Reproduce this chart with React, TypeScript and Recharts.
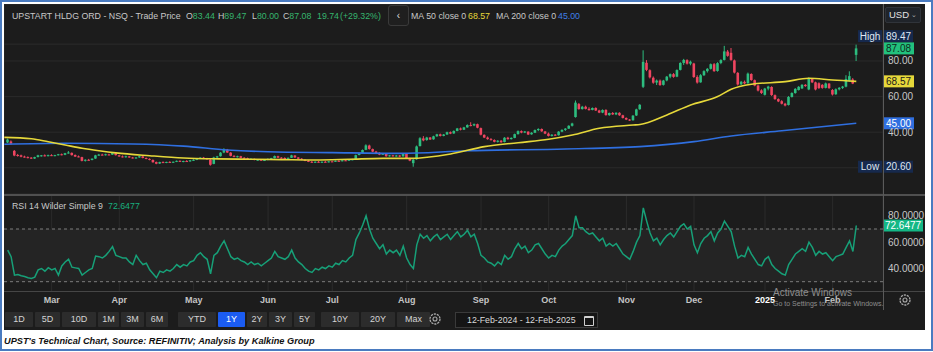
import React from "react";
import {
  ComposedChart, Bar, Line, XAxis, YAxis, CartesianGrid, ReferenceLine, ReferenceArea,
} from "recharts";

// trading-day index (12-Feb-2024 = 0) of the first session of each month
const monthTicks = [13, 33, 55, 77, 96, 118, 140, 160, 183, 203, 224, 244];
const monthLabels = ["Mar", "Apr", "May", "Jun", "Jul", "Aug", "Sep", "Oct", "Nov", "Dec", "2025", "Feb"];

// daily candles [open, high, low, close]
const candles = [
  // Feb
  [34.2, 36.4, 33.9, 35.9], [34.8, 35.4, 33.0, 33.6], [29.5, 30.0, 26.5, 26.9], [27.2, 27.8, 26.3, 27.0],
  [27.0, 27.4, 25.9, 26.2], [26.3, 26.8, 25.7, 26.0], [26.0, 26.4, 25.3, 25.6], [25.7, 26.0, 25.0, 25.3],
  [25.2, 26.2, 25.0, 26.0], [26.1, 27.3, 25.8, 27.0], [26.6, 27.2, 26.3, 27.0], [27.0, 27.5, 26.4, 26.7],
  [26.7, 27.4, 26.4, 27.1],
  // Mar
  [27.1, 27.6, 26.6, 26.9], [26.9, 27.3, 26.5, 27.1], [27.1, 27.8, 26.9, 27.6], [27.6, 28.0, 27.0, 27.3],
  [27.3, 28.4, 27.1, 28.2], [28.3, 29.4, 27.9, 28.6], [28.4, 28.6, 26.9, 27.1], [27.2, 27.5, 26.1, 26.3],
  [26.4, 26.9, 25.9, 26.1], [26.0, 26.2, 23.6, 23.9], [24.0, 24.8, 23.5, 24.5], [24.5, 25.0, 24.0, 24.3],
  [24.4, 25.3, 24.2, 25.1], [25.2, 27.3, 25.0, 27.0], [27.0, 27.8, 26.7, 27.4], [27.4, 27.9, 27.0, 27.2],
  [27.3, 27.9, 26.9, 27.6], [27.5, 27.9, 27.0, 27.3], [27.4, 28.6, 27.2, 28.3], [28.2, 28.5, 26.9, 27.1],
  // Apr
  [27.0, 27.3, 26.1, 26.4], [26.4, 26.9, 25.8, 26.0], [26.0, 26.8, 25.7, 26.5], [26.4, 26.7, 25.6, 25.8],
  [25.8, 26.1, 25.2, 25.5], [25.5, 26.0, 25.1, 25.8], [25.8, 26.8, 25.6, 26.5], [26.4, 26.6, 25.3, 25.5],
  [25.5, 25.8, 24.8, 25.1], [25.0, 25.3, 24.2, 24.5], [24.4, 24.7, 22.9, 23.1], [23.2, 23.5, 22.0, 22.3],
  [22.4, 23.4, 22.2, 23.2], [23.2, 23.6, 22.7, 23.0], [23.0, 23.4, 22.6, 23.3], [23.3, 23.7, 22.8, 23.0],
  [23.0, 23.5, 22.7, 23.4], [23.4, 24.1, 23.2, 23.9], [23.9, 24.2, 23.3, 23.5], [23.5, 24.0, 23.1, 23.8],
  [23.8, 24.3, 23.4, 23.6], [23.6, 24.4, 23.4, 24.2],
  // May
  [24.2, 24.8, 23.9, 24.5], [24.5, 25.4, 24.3, 25.2], [25.2, 25.9, 24.9, 25.7], [25.7, 26.1, 25.0, 25.3],
  [25.3, 25.6, 24.6, 24.9], [24.6, 25.0, 21.2, 21.7], [22.2, 26.2, 22.0, 25.8], [25.8, 26.7, 25.4, 26.4],
  [26.5, 28.8, 26.3, 28.5], [28.6, 31.0, 28.2, 30.3], [30.2, 30.6, 28.3, 28.6], [28.5, 28.8, 26.4, 26.7],
  [26.7, 27.1, 25.9, 26.2], [26.3, 26.8, 25.8, 26.5], [26.5, 26.7, 25.4, 25.6], [25.6, 26.0, 25.1, 25.4],
  [25.4, 25.7, 24.6, 24.8], [24.8, 25.3, 24.5, 25.1], [25.0, 25.2, 24.2, 24.4], [24.4, 24.8, 23.9, 24.6],
  [24.6, 24.9, 23.8, 24.0], [24.0, 24.6, 23.8, 24.4],
  // Jun
  [24.4, 25.3, 24.2, 25.0], [25.0, 25.6, 24.7, 25.4], [25.4, 26.9, 25.3, 26.6], [26.5, 26.8, 25.5, 25.7],
  [25.7, 26.0, 25.2, 25.5], [25.5, 25.9, 25.0, 25.2], [25.2, 25.8, 25.0, 25.6], [25.6, 27.3, 25.5, 27.0],
  [26.9, 27.1, 25.6, 25.8], [25.8, 26.0, 24.9, 25.1], [25.1, 25.4, 24.3, 24.5], [24.5, 24.8, 23.7, 23.9],
  [23.9, 24.3, 23.2, 23.4], [23.4, 23.8, 22.8, 23.0], [23.0, 23.6, 22.8, 23.4], [23.4, 23.8, 22.9, 23.1],
  [23.1, 23.6, 22.7, 23.4], [23.4, 23.9, 23.0, 23.2], [23.2, 23.8, 23.0, 23.6],
  // Jul
  [23.6, 24.0, 23.2, 23.5], [23.5, 24.1, 23.3, 23.9], [23.9, 24.3, 23.5, 23.7], [23.7, 24.4, 23.6, 24.2],
  [24.2, 24.6, 23.8, 24.0], [24.0, 24.7, 23.9, 24.5], [24.5, 25.0, 24.2, 24.8], [24.9, 27.4, 24.8, 27.1],
  [27.2, 28.4, 27.0, 28.1], [28.2, 30.3, 28.0, 30.0], [30.1, 33.2, 29.9, 32.6], [32.5, 33.0, 30.2, 30.6],
  [30.5, 30.8, 28.8, 29.1], [29.1, 29.5, 28.0, 28.3], [28.4, 28.7, 27.1, 27.4], [27.4, 28.2, 27.2, 27.9],
  [27.8, 28.0, 26.2, 26.5], [26.5, 27.2, 26.3, 27.0], [27.0, 27.3, 26.3, 26.6], [26.6, 27.2, 26.2, 26.9],
  [26.9, 27.2, 26.0, 26.3], [26.4, 28.3, 26.3, 28.0],
  // Aug
  [28.0, 28.3, 25.2, 25.5], [25.4, 25.6, 23.7, 24.0], [22.6, 24.9, 20.6, 24.5], [24.8, 32.5, 24.5, 32.0],
  [32.2, 37.2, 32.0, 36.6], [36.5, 37.8, 34.9, 35.4], [35.6, 37.4, 35.2, 37.0], [37.0, 37.3, 35.6, 35.9],
  [36.0, 38.0, 35.8, 37.7], [37.7, 39.1, 37.4, 38.8], [38.8, 39.2, 37.6, 37.9], [37.9, 39.0, 37.7, 38.7],
  [38.7, 40.3, 38.5, 40.0], [40.0, 40.4, 38.9, 39.2], [39.3, 41.0, 39.1, 40.7], [40.7, 42.4, 40.5, 42.1],
  [42.1, 42.6, 41.0, 41.4], [41.4, 43.0, 41.2, 42.7], [42.7, 44.4, 42.5, 44.0], [44.0, 45.6, 43.3, 43.7],
  [43.8, 44.9, 43.4, 44.5], [44.5, 44.8, 42.2, 42.5],
  // Sep
  [42.3, 42.6, 38.2, 38.6], [38.5, 38.8, 36.7, 37.0], [37.0, 37.6, 35.8, 36.1], [36.1, 36.7, 35.3, 35.6],
  [35.6, 36.0, 34.3, 34.6], [34.6, 35.5, 34.2, 35.2], [35.2, 35.6, 34.0, 34.4], [34.5, 37.2, 34.3, 36.9],
  [36.9, 37.4, 35.8, 36.1], [36.1, 37.1, 35.9, 36.8], [36.8, 39.2, 36.6, 38.9], [38.9, 41.0, 38.7, 40.6],
  [40.6, 41.0, 39.4, 39.8], [39.8, 40.7, 39.5, 40.4], [40.3, 40.5, 38.4, 38.7], [38.8, 40.0, 38.6, 39.7],
  [39.7, 41.5, 39.5, 41.2], [41.2, 42.2, 40.6, 41.8], [41.8, 42.1, 40.2, 40.5], [40.4, 40.7, 38.9, 39.2],
  // Oct
  [39.2, 39.8, 37.6, 37.9], [37.9, 38.9, 37.6, 38.6], [38.6, 39.0, 37.9, 38.2], [38.3, 40.6, 38.1, 40.3],
  [40.3, 41.6, 40.0, 41.3], [41.3, 42.3, 40.7, 42.0], [42.0, 43.9, 41.8, 43.6], [43.6, 45.3, 43.2, 44.9],
  [48.5, 57.8, 48.2, 56.6], [55.8, 56.4, 52.6, 53.0], [53.0, 54.8, 52.7, 54.3], [54.3, 54.9, 52.8, 53.1],
  [53.1, 54.0, 52.1, 52.4], [52.5, 53.9, 52.3, 53.6], [53.6, 54.0, 51.9, 52.2], [52.2, 52.6, 50.7, 51.0],
  [51.0, 52.8, 50.7, 52.5], [52.5, 52.9, 49.3, 49.6], [49.6, 51.0, 49.2, 50.8], [50.8, 51.3, 49.7, 50.0],
  [50.0, 51.2, 49.6, 50.9], [50.9, 51.2, 49.2, 49.5], [49.5, 49.8, 47.7, 48.0],
  // Nov
  [48.0, 48.3, 46.8, 47.1], [47.1, 47.4, 46.3, 46.6], [46.7, 49.6, 46.5, 49.3], [49.4, 53.2, 49.1, 52.8],
  [52.9, 55.8, 52.6, 55.4], [65.5, 86.0, 64.8, 79.5], [79.0, 80.5, 74.3, 75.0], [74.8, 75.3, 70.2, 70.8],
  [70.6, 71.3, 67.2, 67.8], [67.9, 69.6, 66.5, 69.0], [69.0, 69.6, 66.0, 66.5], [66.6, 69.4, 66.2, 69.0],
  [69.1, 71.6, 68.6, 71.2], [71.2, 73.0, 70.3, 72.6], [72.6, 73.2, 70.6, 71.1], [71.2, 75.3, 70.9, 74.9],
  [75.0, 79.3, 74.7, 78.9], [78.9, 81.2, 77.8, 80.6], [80.5, 81.0, 78.0, 78.5], [78.5, 80.2, 77.6, 79.6],
  // Dec
  [78.6, 79.0, 70.5, 71.0], [71.0, 72.0, 67.3, 67.9], [68.0, 72.6, 67.8, 72.0], [72.0, 74.8, 71.6, 74.3],
  [74.3, 76.0, 73.5, 75.6], [75.6, 78.6, 75.2, 78.2], [78.2, 78.9, 73.9, 74.3], [74.4, 79.3, 74.0, 78.8],
  [78.9, 81.0, 78.2, 80.5], [80.6, 88.5, 80.3, 85.4], [85.3, 86.2, 82.4, 82.9], [84.6, 87.3, 80.1, 80.6],
  [80.3, 80.8, 73.0, 73.5], [73.3, 73.8, 66.2, 66.8], [66.9, 68.8, 66.5, 68.3], [68.3, 69.0, 67.0, 67.4],
  [67.5, 73.5, 67.2, 72.9], [72.7, 73.1, 68.9, 69.3], [69.2, 69.6, 65.8, 66.2], [66.2, 66.7, 62.9, 63.4],
  [63.5, 64.1, 61.5, 62.0],
  // Jan
  [61.0, 64.9, 60.6, 64.5], [64.5, 66.1, 63.5, 65.6], [65.4, 65.8, 60.4, 60.9], [60.8, 61.2, 58.2, 58.6],
  [58.6, 59.0, 56.9, 57.3], [57.4, 58.0, 55.6, 56.0], [56.0, 56.5, 54.5, 55.0], [55.3, 60.3, 55.0, 59.8],
  [59.8, 62.4, 59.5, 62.0], [62.0, 64.8, 61.6, 64.3], [63.7, 65.9, 63.4, 65.5], [64.6, 67.0, 64.3, 66.6],
  [66.6, 67.0, 65.5, 65.9], [64.0, 70.8, 63.6, 70.2], [70.0, 70.4, 67.6, 68.0], [68.0, 68.4, 63.5, 64.0],
  [67.5, 68.0, 64.3, 64.8], [66.6, 67.0, 64.4, 64.9], [64.9, 67.9, 64.6, 67.4], [67.3, 67.6, 64.3, 64.8],
  // Feb
  [63.7, 64.2, 60.6, 61.2], [61.3, 64.6, 61.0, 64.1], [64.1, 65.4, 63.5, 64.9], [64.9, 66.0, 64.3, 65.6],
  [65.6, 72.0, 65.2, 69.9], [68.8, 74.2, 68.5, 71.5], [69.6, 70.4, 67.0, 67.34], [83.44, 89.47, 80.0, 87.08],
];

// moving averages at a handful of sessions
const ma50Days = [-1, 7, 12, 17, 22, 27, 32, 42, 52, 62, 72, 81, 91, 101, 111, 119, 131, 141, 151, 160, 167, 175, 185, 187, 195, 202, 210, 214, 220, 230, 237, 244, 251];
const ma50Values = [37.1, 36.3, 34.6, 32.8, 31.0, 29.6, 28.4, 26.8, 25.5, 25.0, 24.8, 24.6, 24.4, 24.8, 25.3, 25.3, 27.8, 31.9, 34.1, 36.0, 38.4, 42.2, 44.0, 44.3, 49.7, 55.3, 60.0, 64.1, 66.9, 68.4, 70.3, 69.3, 68.57];
const ma200Days = [-1, 17, 37, 52, 65, 77, 96, 116, 136, 165, 187, 203, 214, 229, 251];
const ma200Values = [33.2, 33.8, 33.4, 32.2, 30.0, 29.0, 28.5, 28.1, 29.6, 30.6, 31.9, 34.7, 37.9, 40.8, 45.0];

// RSI 14, one value per session
const rsiValues = [
  54, 49, 35, 35.5, 34.5, 34, 33, 32.5, 33.5, 39,
  40, 38, 40.6, 39, 40, 35, 42, 45, 47, 41,
  40.5, 40, 35, 37, 39, 40, 49.5, 49, 48, 50,
  53, 56.6, 50, 49, 48, 48, 45, 43, 50, 46,
  43, 44, 39, 36, 33, 38, 37, 39, 38, 40,
  43, 41, 43, 42, 45, 46, 50, 52, 49, 47,
  36, 50, 52, 57, 61, 55, 49, 47, 48, 46,
  45, 43, 45, 43, 44, 42, 44, 46, 48, 53,
  49, 48, 47, 49, 54, 48, 45, 43, 40, 38,
  37, 40, 39, 41, 40, 42, 41, 44, 43, 46,
  45, 48, 50, 62, 67, 73, 80, 70, 63, 59,
  55, 58, 51, 54, 52, 54, 50, 57, 48, 43,
  40, 58, 66, 63, 65, 61, 64, 66, 62, 64,
  66, 62, 65, 68, 64, 66, 69, 64, 66, 59,
  50, 48, 45, 44, 42, 45, 43, 50, 47, 49,
  55, 59, 55, 57, 52, 54, 58, 59, 55, 51,
  48, 50, 49, 54, 57, 59, 62, 65, 80, 71,
  71, 68, 66, 67, 64, 61, 63, 57, 59, 57,
  59, 55, 51, 49, 47, 53, 60, 65, 86, 76,
  67, 61, 63, 58, 62, 65, 67, 64, 68, 72,
  74, 70, 72, 58, 52, 59, 63, 65, 68, 61,
  67, 70, 76, 72, 68, 57, 48, 50, 49, 56,
  51, 47, 43, 42, 47, 49, 43, 40, 38, 36,
  35, 43, 47, 51, 53, 55, 53, 60, 56, 50,
  53, 51, 52, 49, 46, 49, 50, 51, 56, 61,
  53, 72.6477,
];

const priceTicks = [40, 60, 80];
const priceGridLevels = [20];
const rsiTicks = [40, 60, 80];
const periodHigh = 89.47;
const periodLow = 20.6;
const ma50Last = 68.57;
const ma200Last = 45.0;
const dayChange = 19.74;
const dayChangePct = 29.32;
const rangeButtons = ["1D", "5D", "10D", "1M", "3M", "6M", "YTD", "1Y", "2Y", "3Y", "5Y", "10Y", "20Y", "Max"];
const activeRange = "1Y";

// layout / style
const FONT = "'Liberation Sans', Arial, sans-serif";
const PANEL = "#1c1c1c";
const GRID = "#2b2b2b";
const TXT = "#c8c8c8";
const UP = "#2dbd7f";
const DOWN = "#ef4560";
const YELLOW = "#e6d83a";
const BLUE = "#2f6fe0";
const VAL_GREEN = "#36b56e";
const RSI_GREEN = "#17a078";
const HEAD_SIZE = 8.8;
const X_DOMAIN: [number, number] = [-1.1, 258.9];
const btnLeft = [5, 35, 62, 98, 121, 146, 178, 218, 247, 269, 294, 321, 361, 397];
const btnWidth = [28, 25, 34, 21, 23, 22, 38, 27, 20, 23, 21, 38, 34, 33];

const data = candles.map((c, i) => ({ i, o: c[0], h: c[1], l: c[2], c: c[3] }));
const ma50Data = ma50Days.map((d, k) => ({ i: d, v: ma50Values[k] }));
const ma200Data = ma200Days.map((d, k) => ({ i: d, v: ma200Values[k] }));
const rsiData = rsiValues.map((r, i) => ({ i, r }));
const last = candles[candles.length - 1];
const lastRsi = rsiValues[rsiValues.length - 1];

const Candle = (props: any) => {
  const { x, y, width, height, payload } = props;
  if (x == null || payload == null) return null;
  const { o, h, l, c } = payload;
  const color = c >= o ? UP : DOWN;
  const cx = x + width / 2;
  const k = h - l > 0 ? height / (h - l) : 0;
  const yo = y + (h - o) * k;
  const yc = y + (h - c) * k;
  const top = Math.min(yo, yc);
  const bh = Math.max(1, Math.abs(yo - yc));
  return (
    <g>
      <line x1={cx} x2={cx} y1={y} y2={y + height} stroke={color} strokeWidth={1} />
      <rect x={cx - 1.3} y={top} width={2.6} height={bh} fill={color} />
    </g>
  );
};

const ValueTag = (props: any) => {
  const { viewBox, text, bg, fg, w = 31, dy = 0, tag, dx = 1 } = props;
  if (!viewBox) return null;
  const x = viewBox.x + viewBox.width + dx;
  const y = viewBox.y + dy;
  return (
    <g fontFamily={FONT} fontSize={10}>
      {tag && (
        <>
          <rect x={x - 26} y={y - 6} width={24} height={12} fill={bg} />
          <text x={x - 14} y={y + 3.5} textAnchor="middle" fill={fg}>{tag}</text>
        </>
      )}
      <rect x={x} y={y - 6} width={w} height={12} fill={bg} />
      <text x={x + w / 2} y={y + 3.5} textAnchor="middle" fill={fg}>{text}</text>
    </g>
  );
};

const PriceTick = (props: any) => (
  <text x={props.x} y={props.y + 3.5} fill={TXT} fontSize={10} fontFamily={FONT}>
    {Number(props.payload.value).toFixed(2)}
  </text>
);

const RsiTick = (props: any) => (
  <text x={props.x} y={props.y + 3.5} fill={TXT} fontSize={10} fontFamily={FONT}>
    {Number(props.payload.value).toFixed(4)}
  </text>
);

const MonthTick = (props: any) => {
  const idx = monthTicks.indexOf(props.payload.value);
  const label = monthLabels[idx];
  const isYear = /^\d+$/.test(label || "");
  return (
    <text x={props.x} y={props.y + 12} textAnchor="middle" fontSize={9} fontWeight="bold"
      fill={isYear ? "#ffffff" : "#c4c4c4"} fontFamily={FONT}>
      {label}
    </text>
  );
};

const Gear = ({ x, y }: { x: number; y: number }) => (
  <svg style={{ position: "absolute", left: x - 7, top: y - 7 }} width={14} height={14}>
    <circle cx={7} cy={7} r={5} fill="none" stroke="#a8a8a8" strokeWidth={1.3} strokeDasharray="2.2 0.9" />
    <circle cx={7} cy={7} r={2} fill="none" stroke="#a8a8a8" strokeWidth={1.1} />
  </svg>
);

const abs = (left: number, top: number, extra: React.CSSProperties = {}): React.CSSProperties => ({
  position: "absolute", left, top, ...extra,
});

const head = (left: number, top: number, color: string = TXT): React.CSSProperties =>
  abs(left, top, { fontSize: HEAD_SIZE, color, whiteSpace: "nowrap", lineHeight: "12px" });

export default function App() {
  return (
    <div style={{ position: "fixed", left: 0, top: 0, width: 933, height: 352, background: "#fff", fontFamily: FONT, overflow: "hidden" }}>
      <div style={abs(0, 0, { width: 929, height: 347, border: "2px solid #4a7bc0" })} />
      <div style={abs(4, 4, { width: 921, height: 326, background: PANEL })} />

      {/* price panel */}
      <div style={abs(4, 4)}>
        <ComposedChart width={921} height={190} data={data} margin={{ top: 0, right: 0, bottom: 0, left: 0 }}>
          <CartesianGrid stroke={GRID} strokeWidth={1} />
          <XAxis type="number" dataKey="i" domain={X_DOMAIN} ticks={monthTicks} allowDataOverflow
            height={0} tick={false} axisLine={false} tickLine={false} />
          <YAxis orientation="right" width={42} domain={[5.28, 112.02]} ticks={priceTicks} allowDataOverflow
            axisLine={false} tickLine={false} tickSize={0} tickMargin={5} tick={PriceTick} />
          {priceGridLevels.map((g) => <ReferenceLine key={g} y={g} stroke={GRID} />)}
          <ReferenceLine y={periodHigh} stroke={GRID} />
          <Bar dataKey={(d: any) => [d.l, d.h]} shape={Candle} barSize={3} isAnimationActive={false} />
          <Line data={ma200Data} dataKey="v" type="monotone" stroke={BLUE} strokeWidth={1.6} dot={false}
            activeDot={false} isAnimationActive={false} />
          <Line data={ma50Data} dataKey="v" type="monotone" stroke={YELLOW} strokeWidth={1.6} dot={false}
            activeDot={false} isAnimationActive={false} />
          <ReferenceLine y={periodHigh} stroke="none"
            label={(p: any) => <ValueTag {...p} text={periodHigh.toFixed(2)} tag="High" bg="#16294d" fg="#dfe6f2" dy={-8} w={29} />} />
          <ReferenceLine y={periodLow} stroke="none"
            label={(p: any) => <ValueTag {...p} text={periodLow.toFixed(2)} tag="Low" bg="#16294d" fg="#dfe6f2" w={29} />} />
          <ReferenceLine y={ma200Last} stroke="none"
            label={(p: any) => <ValueTag {...p} text={ma200Last.toFixed(2)} bg={BLUE} fg="#ffffff" dx={0} />} />
          <ReferenceLine y={ma50Last} stroke="none"
            label={(p: any) => <ValueTag {...p} text={ma50Last.toFixed(2)} bg={YELLOW} fg="#1a1a1a" dx={0} />} />
          <ReferenceLine y={last[3]} stroke="none"
            label={(p: any) => <ValueTag {...p} text={last[3].toFixed(2)} bg="#22c17d" fg="#0f2a1c" dx={0} />} />
        </ComposedChart>
      </div>

      {/* RSI panel + dates */}
      <div style={abs(4, 196)}>
        <ComposedChart width={921} height={114} data={rsiData} margin={{ top: 0, right: 0, bottom: 0, left: 0 }}>
          <ReferenceArea y1={30} y2={70} fill="#242424" fillOpacity={1} stroke="none" />
          <CartesianGrid stroke={GRID} horizontal={false} />
          <XAxis type="number" dataKey="i" domain={X_DOMAIN} ticks={monthTicks} allowDataOverflow
            height={19} axisLine={false} tickLine={false} tickSize={0} tickMargin={0} tick={MonthTick} />
          <YAxis orientation="right" width={42} domain={[22.94, 95.05]} ticks={rsiTicks} allowDataOverflow
            axisLine={false} tickLine={false} tickSize={0} tickMargin={5} tick={RsiTick} />
          <ReferenceLine y={70} stroke="#7d7d7d" strokeDasharray="3 3" />
          <ReferenceLine y={30} stroke="#7d7d7d" strokeDasharray="3 3" />
          <Line dataKey="r" type="linear" stroke={RSI_GREEN} strokeWidth={1.5} dot={false}
            activeDot={false} isAnimationActive={false} />
          <ReferenceLine y={lastRsi} stroke="none"
            label={(p: any) => <ValueTag {...p} text={lastRsi.toFixed(4)} bg="#14b886" fg="#ffffff" w={40} dx={0} />} />
        </ComposedChart>
      </div>

      {/* separators */}
      <div style={abs(4, 194, { width: 921, height: 2, background: "#505050" })} />
      <div style={abs(4, 291, { width: 921, height: 1, background: "#464646" })} />
      <div style={abs(883, 4, { width: 1, height: 306, background: "#5a5a5a" })} />

      {/* header */}
      <div style={head(12, 10)}>UPSTART HLDG ORD - NSQ - Trade Price</div>
      <div style={head(186, 10)}>O<span style={{ color: VAL_GREEN }}>{last[0].toFixed(2)}</span></div>
      <div style={head(218, 10)}>H<span style={{ color: VAL_GREEN }}>{last[1].toFixed(2)}</span></div>
      <div style={head(252, 10)}>L<span style={{ color: VAL_GREEN }}>{last[2].toFixed(2)}</span></div>
      <div style={head(283, 10)}>C<span style={{ color: VAL_GREEN }}>{last[3].toFixed(2)}</span></div>
      <div style={head(317, 10, VAL_GREEN)}>{dayChange.toFixed(2)}</div>
      <div style={head(340, 10, VAL_GREEN)}>(+{dayChangePct.toFixed(2)}%)</div>
      <div style={abs(388, 5, { width: 19, height: 19, border: "1px solid #3a3a3a", borderRadius: 3, background: "#1f1f1f", color: "#ddd", fontSize: 10, textAlign: "center", lineHeight: "19px" })}>
        ‹
      </div>
      <div style={head(411, 10)}>MA 50 close 0</div>
      <div style={head(468, 10, YELLOW)}>{ma50Last.toFixed(2)}</div>
      <div style={head(496, 10)}>MA 200 close 0</div>
      <div style={head(558, 10, "#3f7fe6")}>{ma200Last.toFixed(2)}</div>
      <div style={abs(885, 7, { width: 36, height: 16, background: "#20242a", border: "1px solid #30343a", borderRadius: 2, boxSizing: "border-box", color: "#e2e2e2", fontSize: 9.5, lineHeight: "14px", paddingLeft: 3 })}>
        USD<span style={{ position: "absolute", right: 3, top: 0, fontSize: 7, color: "#aaa" }}>⌄</span>
      </div>

      {/* RSI title */}
      <div style={head(12, 200)}>RSI 14 Wilder Simple 9</div>
      <div style={head(108, 200, "#19b07f")}>{lastRsi.toFixed(4)}</div>

      {/* watermark */}
      <div style={abs(773, 287, { fontSize: 10, color: "#8d8d8d", whiteSpace: "nowrap", lineHeight: "12px" })}>Activate Windows</div>
      <div style={abs(773, 299, { fontSize: 7, color: "#8d8d8d", whiteSpace: "nowrap", lineHeight: "9px" })}>Go to Settings to activate Windows.</div>
      <Gear x={905} y={300} />

      {/* range buttons */}
      {rangeButtons.map((b, k) => (
        <div key={b} style={abs(btnLeft[k], 312, {
          width: btnWidth[k], height: 15, lineHeight: "15px", textAlign: "center", fontSize: 9,
          background: b === activeRange ? "#1b5cf2" : "#2c2c2c", color: b === activeRange ? "#fff" : "#d4d4d4", borderRadius: 1,
        })}>{b}</div>
      ))}
      <Gear x={435} y={319} />
      <div style={abs(455, 312, { width: 143, height: 16, boxSizing: "border-box", background: "#151515", border: "1px solid #3a3a3a", color: "#dadada", fontSize: 8.8, lineHeight: "14px", paddingLeft: 11, whiteSpace: "nowrap" })}>
        12-Feb-2024 - 12-Feb-2025
        <span style={{ position: "absolute", left: 128, top: 3, width: 8, height: 7, border: "1px solid #cfcfcf", borderTopWidth: 2, borderRadius: 1 }} />
      </div>

      {/* caption */}
      <div style={abs(4, 335, { fontSize: 9.2, fontWeight: "bold", fontStyle: "italic", color: "#111", whiteSpace: "nowrap", lineHeight: "12px" })}>
        UPST's Technical Chart, Source: REFINITIV; Analysis by Kalkine Group
      </div>
    </div>
  );
}
